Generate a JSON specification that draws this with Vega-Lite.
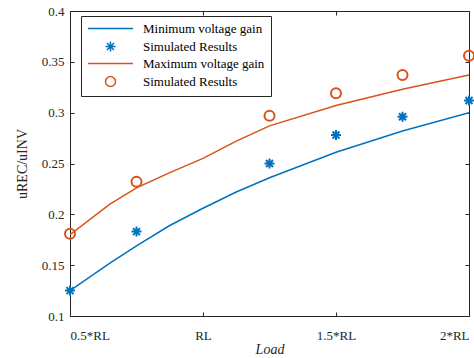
{
  "$schema": "https://vega.github.io/schema/vega-lite/v6.json",
  "width": 399,
  "height": 305,
  "autosize": "none",
  "padding": {"left": 70, "top": 11, "right": 5, "bottom": 42},
  "background": "white",
  "config": {
    "font": "Liberation Serif",
    "view": {"stroke": "#262626", "strokeWidth": 1},
    "axis": {
      "grid": false,
      "domainColor": "#262626",
      "domainWidth": 1,
      "tickColor": "#262626",
      "tickWidth": 1,
      "tickSize": -4,
      "labelColor": "#262626",
      "titleColor": "#262626",
      "labelFont": "Liberation Serif",
      "titleFont": "Liberation Serif",
      "labelFontSize": 13,
      "titleFontWeight": "normal"
    },
    "legend": {
      "labelFont": "Liberation Serif",
      "labelFontSize": 13,
      "labelColor": "#000000"
    }
  },
  "datasets": {
    "lines": [
      {"load": 0.5, "gain": 0.125, "series": "Minimum voltage gain"},
      {"load": 0.65, "gain": 0.152, "series": "Minimum voltage gain"},
      {"load": 0.75, "gain": 0.169, "series": "Minimum voltage gain"},
      {"load": 0.875, "gain": 0.189, "series": "Minimum voltage gain"},
      {"load": 1.0, "gain": 0.206, "series": "Minimum voltage gain"},
      {"load": 1.125, "gain": 0.222, "series": "Minimum voltage gain"},
      {"load": 1.25, "gain": 0.236, "series": "Minimum voltage gain"},
      {"load": 1.5, "gain": 0.261, "series": "Minimum voltage gain"},
      {"load": 1.75, "gain": 0.282, "series": "Minimum voltage gain"},
      {"load": 2.0, "gain": 0.300, "series": "Minimum voltage gain"},
      {"load": 0.5, "gain": 0.180, "series": "Maximum voltage gain"},
      {"load": 0.65, "gain": 0.210, "series": "Maximum voltage gain"},
      {"load": 0.75, "gain": 0.226, "series": "Maximum voltage gain"},
      {"load": 0.875, "gain": 0.241, "series": "Maximum voltage gain"},
      {"load": 1.0, "gain": 0.255, "series": "Maximum voltage gain"},
      {"load": 1.125, "gain": 0.272, "series": "Maximum voltage gain"},
      {"load": 1.25, "gain": 0.287, "series": "Maximum voltage gain"},
      {"load": 1.5, "gain": 0.307, "series": "Maximum voltage gain"},
      {"load": 1.75, "gain": 0.323, "series": "Maximum voltage gain"},
      {"load": 2.0, "gain": 0.337, "series": "Maximum voltage gain"}
    ],
    "points": [
      {"load": 0.5, "gain": 0.125, "series": "Simulated Results"},
      {"load": 0.75, "gain": 0.183, "series": "Simulated Results"},
      {"load": 1.25, "gain": 0.250, "series": "Simulated Results"},
      {"load": 1.5, "gain": 0.278, "series": "Simulated Results"},
      {"load": 1.75, "gain": 0.296, "series": "Simulated Results"},
      {"load": 2.0, "gain": 0.312, "series": "Simulated Results"},
      {"load": 0.5, "gain": 0.181, "series": "Simulated Results "},
      {"load": 0.75, "gain": 0.232, "series": "Simulated Results "},
      {"load": 1.25, "gain": 0.297, "series": "Simulated Results "},
      {"load": 1.5, "gain": 0.319, "series": "Simulated Results "},
      {"load": 1.75, "gain": 0.337, "series": "Simulated Results "},
      {"load": 2.0, "gain": 0.356, "series": "Simulated Results "}
    ]
  },
  "layer": [
    {
      "data": {"name": "lines"},
      "mark": {"type": "line", "strokeWidth": 1.5, "clip": true},
      "encoding": {
        "x": {
          "field": "load", "type": "quantitative",
          "scale": {"domain": [0.5, 2], "nice": false, "zero": false},
          "axis": {
            "orient": "bottom",
            "values": [0.5, 1, 1.5, 2],
            "labelExpr": "datum.value == 0.5 ? '0.5*RL' : datum.value == 1 ? 'RL' : datum.value == 1.5 ? '1.5*RL' : '2*RL'",
            "labelFlush": true,
            "labelPadding": 17,
            "title": "Load",
            "titleFontStyle": "italic",
            "titleFontSize": 14,
            "titlePadding": 0
          }
        },
        "y": {
          "field": "gain", "type": "quantitative",
          "scale": {"domain": [0.1, 0.4], "nice": false, "zero": false},
          "axis": {
            "orient": "left",
            "values": [0.1, 0.15, 0.2, 0.25, 0.3, 0.35, 0.4],
            "labelExpr": "format(datum.value, '.2~f')",
            "labelPadding": 10,
            "title": "uREC/uINV",
            "titleFontSize": 14,
            "titlePadding": 12
          }
        },
        "color": {
          "field": "series", "type": "nominal",
          "scale": {
            "domain": ["Minimum voltage gain", "Simulated Results", "Maximum voltage gain", "Simulated Results "],
            "range": ["#0072BD", "#0072BD", "#D95319", "#D95319"]
          },
          "legend": {
            "title": null,
            "orient": "none",
            "legendX": 11,
            "legendY": 5,
            "padding": 6,
            "strokeColor": "#262626",
            "fillColor": "white",
            "symbolOffset": 17,
            "labelOffset": 26,
            "rowPadding": 2,
            "symbolStrokeWidth": 1.5
          }
        }
      }
    },
    {
      "data": {"name": "points"},
      "mark": {"type": "point", "filled": false, "strokeWidth": 2, "size": 100, "opacity": 1},
      "encoding": {
        "x": {
          "field": "load", "type": "quantitative",
          "axis": {"orient": "top", "values": [0.5, 1, 1.5, 2], "labels": false, "title": null}
        },
        "y": {
          "field": "gain", "type": "quantitative",
          "axis": {"orient": "right", "values": [0.1, 0.15, 0.2, 0.25, 0.3, 0.35, 0.4], "labels": false, "title": null}
        },
        "color": {"field": "series", "type": "nominal"},
        "shape": {
          "field": "series", "type": "nominal",
          "scale": {
            "domain": ["Minimum voltage gain", "Simulated Results", "Maximum voltage gain", "Simulated Results "],
            "range": ["M-4.5,0L4.5,0", "M-1,0L1,0M0,-1L0,1M-0.7,-0.7L0.7,0.7M-0.7,0.7L0.7,-0.7", "M-4.5,0L4.5,0", "circle"]
          }
        }
      }
    }
  ],
  "resolve": {"axis": {"x": "independent", "y": "independent"}}
}
